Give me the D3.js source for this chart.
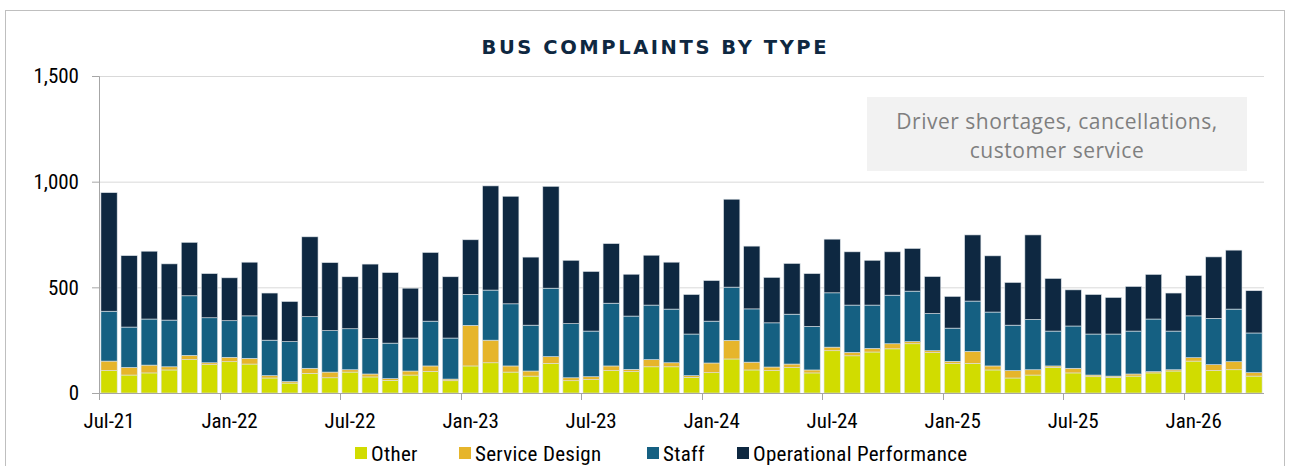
<!DOCTYPE html>
<html>
<head>
<meta charset="utf-8">
<script src="https://cdn.jsdelivr.net/npm/d3@7"></script>
<style>
  html, body { margin: 0; padding: 0; background: #fff; }
  svg { display: block; }
  .lbl { font-family: "Liberation Sans Narrow", "Arial Narrow", "Roboto Condensed", sans-serif; fill: #000; }
</style>
</head>
<body>
<div id="chart"></div>
<script>
// Monthly bus complaints, stacked by type.
const months = [
  "Jul-21","Aug-21","Sep-21","Oct-21","Nov-21","Dec-21",
  "Jan-22","Feb-22","Mar-22","Apr-22","May-22","Jun-22","Jul-22","Aug-22","Sep-22","Oct-22","Nov-22","Dec-22",
  "Jan-23","Feb-23","Mar-23","Apr-23","May-23","Jun-23","Jul-23","Aug-23","Sep-23","Oct-23","Nov-23","Dec-23",
  "Jan-24","Feb-24","Mar-24","Apr-24","May-24","Jun-24","Jul-24","Aug-24","Sep-24","Oct-24","Nov-24","Dec-24",
  "Jan-25","Feb-25","Mar-25","Apr-25","May-25","Jun-25","Jul-25","Aug-25","Sep-25","Oct-25","Nov-25","Dec-25",
  "Jan-26","Feb-26","Mar-26","Apr-26"
];
const other = [106,85,95,109,158,134,148,137,71, 47,93,72,99,76,60,85,102,58,128,
  143,99,80,140,58,63,106,101,124,124, 74,96,161,109,106,120,95,200,176,194,
  209,233,191,139,140,109,71,85,121,95, 77,74,80,95,104,151,106,110,80];
const serviceDesign = [45,36,37,15,20,9,21,27,11, 7,24,27,11,14,8,19,26,8,192,
  107,29,24,32,14,14,22,11,34,19, 8,46,88,37,17,17,14,17,16,17,
  24,10,9,11,57,19,35,25,7,22, 8,6,10,6,6,16,28,38,16];
const staff = [236,191,218,221,282,213,173,201,168, 189,244,196,194,167,168,156,212,194,146,
  237,294,217,324,256,216,297,252,258,254, 197,198,252,252,209,236,206,257,224,205,
  230,239,176,157,238,255,215,238,165,200, 194,199,203,249,183,198,219,249,188];
const operational = [561,338,321,266,253,209,203,254,223, 190,378,322,246,353,334,236,325,290,259,
  493,509,322,482,300,282,282,198,236,222, 187,192,416,297,215,240,250,254,252,212,
  205,202,175,150,313,266,202,400,249,171, 187,173,211,211,180,191,291,279,200];

const seriesNames = ["Other", "Service Design", "Staff", "Operational Performance"];
const seriesColors = ["#d1dc00", "#e6b52b", "#156082", "#0e2841"];
const yTicks = [0, 500, 1000, 1500];
const xLabelEvery = 6;
const title = "BUS COMPLAINTS BY TYPE";
const noteLines = ["Driver shortages, cancellations,", "customer service"];

const width = 1291, height = 466;
const m = { top: 76, right: 27, bottom: 73, left: 99 };
const iW = width - m.left - m.right, iH = height - m.top - m.bottom;

const rows = months.map((mo, i) => ({
  month: mo,
  "Other": other[i],
  "Service Design": serviceDesign[i],
  "Staff": staff[i],
  "Operational Performance": operational[i]
}));
const stacked = d3.stack().keys(seriesNames)(rows);

const x = d3.scaleBand(months, [0, iW]).paddingInner(0.19).paddingOuter(0.095);
const y = d3.scaleLinear([0, 1500], [iH, 0]);
const color = d3.scaleOrdinal(seriesNames, seriesColors);

const svg = d3.select("#chart").append("svg")
  .attr("width", width).attr("height", height)
  .attr("viewBox", `0 0 ${width} ${height}`);

// chart frame
svg.append("rect").attr("x", 5.5).attr("y", 10.5).attr("width", 1279).attr("height", 480)
  .attr("fill", "none").attr("stroke", "#bfbfbf");

svg.append("text")
  .attr("x", 654).attr("y", 54).attr("text-anchor", "middle")
  .attr("textLength", 345).attr("lengthAdjust", "spacing")
  .style("font-family", "'DejaVu Sans', sans-serif").style("font-weight", 700)
  .style("font-size", "19.5px").style("fill", "#0e2841")
  .text(title);

const g = svg.append("g").attr("transform", `translate(${m.left},${m.top})`);

// gridlines
g.append("g").selectAll("line").data(yTicks.filter((d) => d > 0)).join("line")
  .attr("x1", 0).attr("x2", iW).attr("y1", (d) => y(d) + 0.5).attr("y2", (d) => y(d) + 0.5)
  .attr("stroke", "#d9d9d9").attr("stroke-width", 1);

// annotation box
const nb = svg.append("g");
nb.append("rect").attr("x", 867).attr("y", 97).attr("width", 380).attr("height", 74).attr("fill", "#f2f2f2");
nb.selectAll("text").data(noteLines).join("text")
  .attr("x", 1057).attr("y", (d, i) => 128.5 + i * 29.5).attr("text-anchor", "middle")
  .style("font-family", "'Open Sans', 'Noto Sans', sans-serif").style("font-size", "21px")
  .style("letter-spacing", "0.5px")
  .style("fill", "#7f7f7f").text((d) => d);

// stacked bars
g.append("g").selectAll("g").data(stacked).join("g")
  .attr("fill", (d) => color(d.key))
  .selectAll("rect").data((d) => d).join("rect")
  .attr("x", (d) => x(d.data.month))
  .attr("y", (d) => y(d[1]))
  .attr("width", x.bandwidth())
  .attr("height", (d) => y(d[0]) - y(d[1]))
  .attr("stroke", "#dde3e8").attr("stroke-width", 0.6);

// y axis
const yAxis = g.append("g")
  .call(d3.axisLeft(y).tickValues(yTicks).tickSize(7).tickPadding(13).tickFormat(d3.format(",")));
yAxis.select(".domain").attr("stroke", "#a6a6a6");
yAxis.selectAll(".tick line").attr("stroke", "#a6a6a6");
yAxis.selectAll("text").attr("class", "lbl").style("font-size", "21px").attr("fill", "#000");

// x axis: ticks at category boundaries, labels every 6 months
const xa = g.append("g").attr("transform", `translate(0,${iH})`);
xa.append("line").attr("x1", 0).attr("x2", iW).attr("y1", 0.5).attr("y2", 0.5).attr("stroke", "#a6a6a6");
const labelIdx = months.map((d, i) => i).filter((i) => i % xLabelEvery === 0);
xa.selectAll("line.tk").data(labelIdx).join("line").attr("class", "tk")
  .attr("x1", (i) => Math.round(x(months[i]) - x.step() * x.paddingInner() / 2) + 0.5)
  .attr("x2", (i) => Math.round(x(months[i]) - x.step() * x.paddingInner() / 2) + 0.5)
  .attr("y1", 0).attr("y2", 7).attr("stroke", "#a6a6a6");
xa.selectAll("text").data(labelIdx).join("text").attr("class", "lbl")
  .attr("x", (i) => x(months[i]) + x.bandwidth() / 2).attr("y", 35)
  .attr("text-anchor", "middle").style("font-size", "21px")
  .text((i) => months[i]);

// legend
const legendX = [355, 459, 647, 737];
const lg = svg.append("g").attr("transform", "translate(0,453)");
const li = lg.selectAll("g").data(seriesNames).join("g")
  .attr("transform", (d, i) => `translate(${legendX[i]},0)`);
li.append("rect").attr("x", 0).attr("y", -6).attr("width", 12).attr("height", 12)
  .attr("fill", (d) => color(d));
li.append("text").attr("class", "lbl").attr("x", 16).attr("y", 7.5)
  .style("font-size", "21px").style("letter-spacing", "0.3px").text((d) => d);
</script>
</body>
</html>
